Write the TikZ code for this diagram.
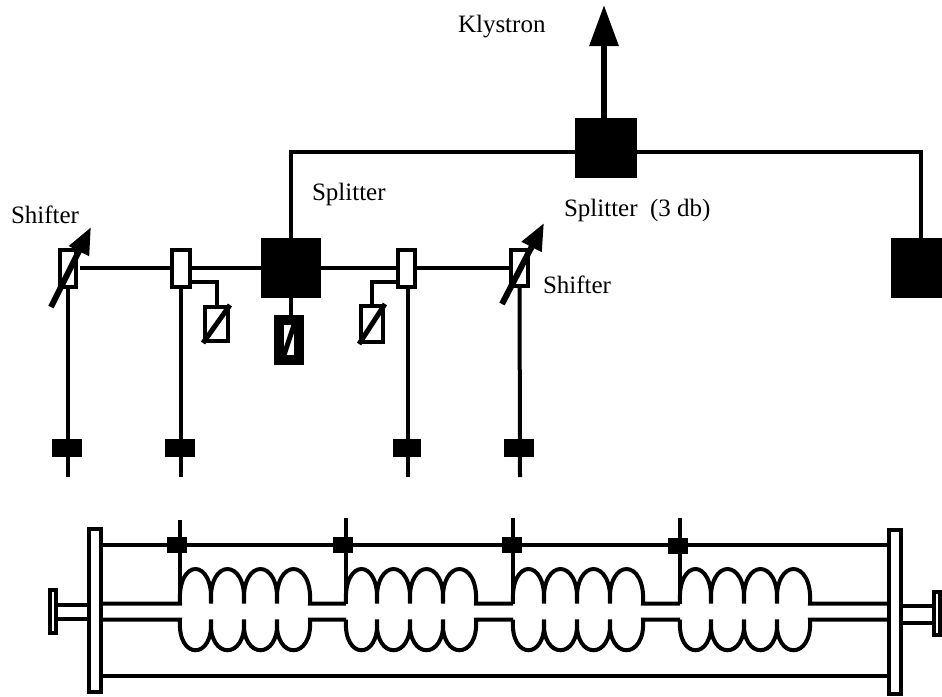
\documentclass[tikz,border=0pt]{standalone}
\usepackage{fontspec}
\setmainfont{Liberation Serif}
\usetikzlibrary{arrows.meta}
\begin{document}
\begin{tikzpicture}[x=1pt,y=-1pt,line width=4pt,
  lbl/.style={inner sep=0, anchor=base west, font=\fontsize{25}{28}\selectfont},
  splbox/.style={rectangle, fill, inner sep=0, outer sep=0, minimum width=#1, minimum height=60pt},
  blk/.style={rectangle, fill, inner sep=0, outer sep=0, minimum width=30pt, minimum height=18pt},
  cpl/.style={rectangle, fill, inner sep=0, outer sep=0, minimum width=20pt, minimum height=16pt},
  wbox/.style={rectangle, draw, fill=white, inner sep=0},
  tuner/.style={line width=6pt, -{Triangle[width=21pt,length=27pt]}},
  cavup/.style={to path={.. controls +(-3,-46) and +(3,-46) .. (\tikztotarget)}},
  cavdn/.style={to path={.. controls +(-3,41) and +(3,41) .. (\tikztotarget)}}]
\useasboundingbox (0,0) rectangle (942,696);
% upper feed
\node[splbox=62pt] (spl0) at (606,148){};
\node[splbox=60pt] (spl1) at (291,268){};
\node[splbox=60pt] (spl2) at (921,268){};
\coordinate (kly) at (604,5);
\coordinate (bus) at (606,152);
\draw[line width=6pt, -{Triangle[width=28pt,length=41pt]}](spl0.north -| kly) -- (kly);
\draw[](spl1) |- (bus);
\draw[](bus) -| (spl2);
% branches of the left splitter
\node[wbox, minimum width=16pt, minimum height=37pt] (shf0) at (68,268){};
\node[wbox, minimum width=18pt, minimum height=37pt] (tap0) at (180.5,268){};
\node[wbox, minimum width=17.5pt, minimum height=37pt] (tap1) at (406.5,268){};
\node[wbox, minimum width=17pt, minimum height=36pt] (shf1) at (519.5,268){};
\draw[shorten <=2pt](shf0.east) -- (tap0);
\draw[](tap0) -- (spl1);
\draw[](spl1) -- (tap1);
\draw[](tap1) -- (shf1);
% phase shifters
\coordinate (shf0a) at (51,307);
\coordinate (shf0b) at (91,227);
\coordinate (shf1a) at (502,304);
\coordinate (shf1b) at (544,223);
\draw[tuner](shf0a) -- (shf0b);
\draw[tuner](shf1a) -- (shf1b);
% loads
\node[wbox, minimum width=23pt, minimum height=34pt] (lod0) at (216.5,324){};
\node[wbox, minimum width=22pt, minimum height=36pt] (lod1) at (372,324){};
\node[wbox, line width=10pt, minimum width=20pt, minimum height=40pt] (lod2) at (289,340){};
\coordinate (stb0) at (191,282);
\coordinate (stb1) at (396,282);
\draw[](stb0) -| (lod0);
\draw[](stb1) -| (lod1);
\draw[](spl1) -- (spl1 |- lod2.north);
\draw[line width=5pt](lod0.south west) -- (lod0.north east);
\draw[line width=5pt](lod1.south west) -- (lod1.north east);
\draw[line width=5pt](lod2.center) ++(-5,15) -- ++(10,-30);
% feeders with their windows
\coordinate (end0) at (68,477);
\coordinate (end1) at (181,477);
\coordinate (end2) at (408,477);
\coordinate (end3) at (520,477);
\draw[](shf0) -- (end0);
\draw[](tap0.south -| end1) -- (end1);
\draw[](tap1.south -| end2) -- (end2);
\draw[](shf1) -- (end3);
\node[blk] (win0) at (66.5,448){};
\node[blk] (win1) at (179.5,448){};
\node[blk, minimum width=28pt] (win2) at (407,448){};
\node[blk] (win3) at (518.5,448){};
% tank
\node[wbox, minimum width=12pt, minimum height=163pt] (flg0) at (95,610.5){};
\node[wbox, minimum width=12pt, minimum height=164pt] (flg1) at (895,612){};
\node[wbox, minimum width=6pt, minimum height=43pt] (nub0) at (53,611.5){};
\node[wbox, minimum width=6pt, minimum height=43pt] (nub1) at (937,613.5){};
\coordinate (rla) at (0,545);
\coordinate (rlb) at (0,676);
\draw[](flg0.east |- rla) -- (flg1.west |- rla);
\draw[](flg0.east |- rlb) -- (flg1.west |- rlb);
\coordinate (pp0) at (0,605);
\coordinate (pp1) at (0,619);
\coordinate (pp2) at (0,606);
\coordinate (pp3) at (0,623);
\draw[](nub0.east |- pp0) -- (flg0.west |- pp0);
\draw[](nub0.east |- pp1) -- (flg0.west |- pp1);
\draw[](flg1.east |- pp2) -- (nub1.west |- pp2);
\draw[](flg1.east |- pp3) -- (nub1.west |- pp3);
% couplers
\coordinate (top0) at (180,520);
\coordinate (top1) at (346,518);
\coordinate (top2) at (513,518);
\coordinate (top3) at (680,518);
\coordinate (cav0) at (180,603.5);
\coordinate (cav1) at (346,603.5);
\coordinate (cav2) at (513,603.5);
\coordinate (cav3) at (680,603.5);
\coordinate (cbm0) at (180,619.5);
\coordinate (cbm1) at (346,619.5);
\coordinate (cbm2) at (513,619.5);
\coordinate (cbm3) at (680,619.5);
\draw[](top0) -- (cav0);
\draw[](top1) -- (cav1);
\draw[](top2) -- (cav2);
\draw[](top3) -- (cav3);
\node[cpl] (cpl0) at (177,545){};
\node[cpl] (cpl1) at (343,545){};
\node[cpl] (cpl2) at (512,545){};
\node[cpl] (cpl3) at (678,546){};
% cavities
\draw[](flg0.east |- cav0) -- (cav0) to[cavup] ++(31,0) to[cavup] ++(33,0) to[cavup] ++(33,0) to[cavup] ++(33,0) -- (cav1);
\draw[](cav1) to[cavup] ++(31,0) to[cavup] ++(33,0) to[cavup] ++(33,0) to[cavup] ++(33,0) -- (cav2);
\draw[](cav2) to[cavup] ++(31,0) to[cavup] ++(33,0) to[cavup] ++(33,0) to[cavup] ++(33,0) -- (cav3);
\draw[](cav3) to[cavup] ++(31,0) to[cavup] ++(33,0) to[cavup] ++(33,0) to[cavup] ++(33,0) -- (flg1.west |- cav3);
\draw[](flg0.east |- cbm0) -- (cbm0) to[cavdn] ++(31,0) to[cavdn] ++(33,0) to[cavdn] ++(33,0) to[cavdn] ++(33,0) -- (cbm1);
\draw[](cbm1) to[cavdn] ++(31,0) to[cavdn] ++(33,0) to[cavdn] ++(33,0) to[cavdn] ++(33,0) -- (cbm2);
\draw[](cbm2) to[cavdn] ++(31,0) to[cavdn] ++(33,0) to[cavdn] ++(33,0) to[cavdn] ++(33,0) -- (cbm3);
\draw[](cbm3) to[cavdn] ++(31,0) to[cavdn] ++(33,0) to[cavdn] ++(33,0) to[cavdn] ++(33,0) -- (flg1.west |- cbm3);
% labels
\node[lbl] (txt0) at (456,32){Klystron};
\node[lbl] (txt1) at (310,200){Splitter};
\node[lbl] (txt2) at (562,216){Splitter\ \ (3 db)};
\node[lbl] (txt3) at (9,223){Shifter};
\node[lbl] (txt4) at (541,293){Shifter};
\end{tikzpicture}
\end{document}
